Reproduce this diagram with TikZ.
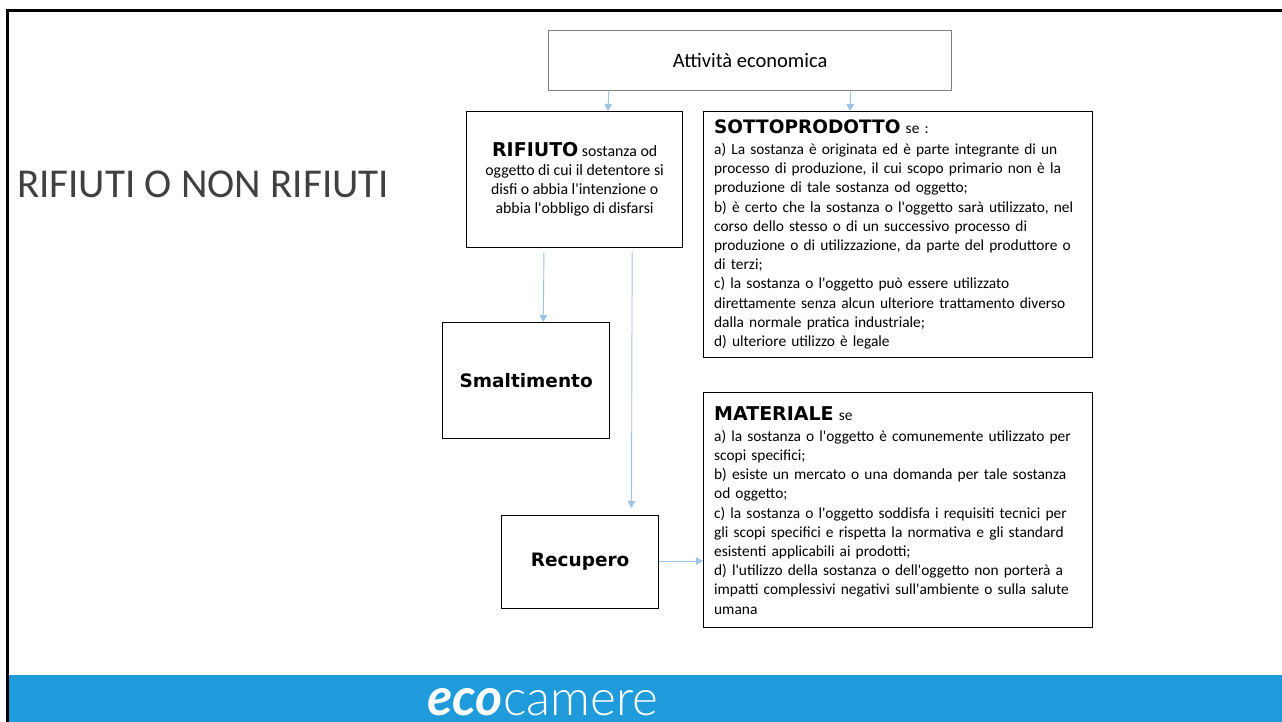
\documentclass[tikz,border=0pt]{standalone}
\usepackage{fontspec}
\setmainfont{Carlito}
\newfontfamily\bodyf{Carlito}
\newfontfamily\boldv{DejaVu Sans}
\newfontfamily\logof{Lato}
\newfontfamily\logol{Lato Light}
\definecolor{barblue}{HTML}{1F9BDB}
\definecolor{arrowblue}{HTML}{9DC3E6}
\definecolor{greyline}{HTML}{7F7F7F}
\usetikzlibrary{arrows.meta}
\newcommand{\hd}[2]{{\boldv\bfseries\fontsize{#1}{19}\selectfont #2}}
\tikzset{
  x=1pt,y=-1pt,
  box/.style={draw=black,line width=1.3pt,fill=white,inner sep=0pt,anchor=north west,align=center,font=\bodyf\fontsize{15.8}{19}\selectfont},
  txtbox/.style={box,align=left,text width=368pt,inner xsep=10.5pt},
  conn/.style={draw=arrowblue,line width=0.9pt,-{Triangle[length=7pt,width=7.5pt]}},
}
\begin{document}
\begin{tikzpicture}
\useasboundingbox (0,0) rectangle (1282,722);
\fill[white] (0,0) rectangle (1282,722);
\fill[barblue] (8,675) rectangle (1282,722);
\draw[black,line width=3pt] (7.5,722) -- (7.5,11) -- (1282,11);
\node[anchor=west,inner sep=0pt,font=\bodyf\fontsize{41}{46}\selectfont,text=black!75] (title) at (17,184) {RIFIUTI O NON RIFIUTI};

\node[box,draw=greyline,minimum width=403pt,minimum height=60pt,font=\bodyf\fontsize{20.5}{24}\selectfont] (att) at (548,30) {Attività economica};
\node[box,minimum width=216pt,minimum height=136pt] (rif) at (466,111) {\hd{19}{RIFIUTO} sostanza od\\oggetto di cui il detentore si\\disfi o abbia l'intenzione o\\abbia l'obbligo di disfarsi};
\node[box,minimum width=167pt,minimum height=116pt] (sma) at (442,322) {\hd{18.5}{Smaltimento}};
\node[box,minimum width=157pt,minimum height=93pt] (rec) at (501,515) {\hd{18.5}{Recupero}};
\node[box,txtbox,minimum height=246pt,font=\bodyf\fontsize{15.4}{19.2}\selectfont] (sot) at (703,111) {\hd{18.5}{SOTTOPRODOTTO} se :\\[1.5pt]
a) La sostanza è originata ed è parte integrante di un\\
processo di produzione, il cui scopo primario non è la\\
produzione di tale sostanza od oggetto;\\
b) è certo che la sostanza o l'oggetto sarà utilizzato, nel\\
corso dello stesso o di un successivo processo di\\
produzione o di utilizzazione, da parte del produttore o\\
di terzi;\\
c) la sostanza o l'oggetto può essere utilizzato\\
direttamente senza alcun ulteriore trattamento diverso\\
dalla normale pratica industriale;\\
d) ulteriore utilizzo è legale};
\node[box,txtbox,minimum height=235pt,font=\bodyf\fontsize{15.4}{19.2}\selectfont] (mat) at (703,392) {\hd{19}{MATERIALE} se\\[2pt]
a) la sostanza o l'oggetto è comunemente utilizzato per\\
scopi specifici;\\
b) esiste un mercato o una domanda per tale sostanza\\
od oggetto;\\
c) la sostanza o l'oggetto soddisfa i requisiti tecnici per\\
gli scopi specifici e rispetta la normativa e gli standard\\
esistenti applicabili ai prodotti;\\
d) l'utilizzo della sostanza o dell'oggetto non porterà a\\
impatti complessivi negativi sull'ambiente o sulla salute\\
umana};

\draw[conn] ([xshift=-141.5pt]att.south) -- (rif.north -| 608,0);
\draw[conn] ([xshift=100.5pt]att.south) -- (sot.north -| 850,0);
\draw[conn] ([xshift=-30.7pt,yshift=-4pt]rif.south) -- (sma.north -| 543.3,0);
\coordinate (recin) at (631.5,508);
\draw[conn] ([xshift=57.5pt,yshift=-4pt]rif.south) -- (recin);
\draw[conn] (rec.east |- 0,561) -- (mat.west |- 0,561);

\node[anchor=base east,inner sep=0pt,text=white,font=\logof\bfseries\itshape\fontsize{52}{54}\selectfont] (eco) at (503,715) {eco};
\node[anchor=base west,inner sep=0pt,text=white,font=\logol\fontsize{49.5}{52}\selectfont] (cam) at (eco.base east) {camere};
\end{tikzpicture}
\end{document}
